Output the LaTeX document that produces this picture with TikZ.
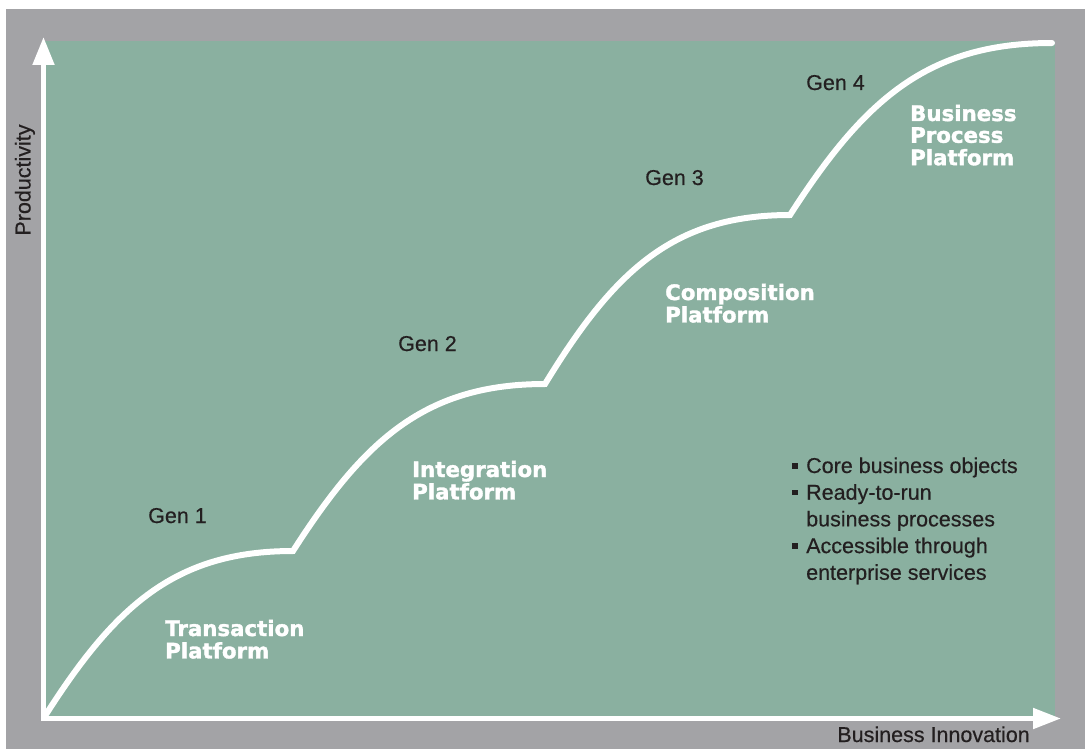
\documentclass[tikz,border=0pt]{standalone}
\usepackage{fontspec}
\setmainfont{Liberation Sans}[FakeBold=0.45]
\newfontfamily\heavyfont{DejaVu Sans}[BoldFeatures={FakeBold=1.6}]
\usetikzlibrary{arrows.meta}
\definecolor{bggray}{RGB}{163,163,166}
\definecolor{chartgreen}{RGB}{138,176,160}
\definecolor{inkdark}{RGB}{35,31,32}
\tikzset{
  genlabel/.style={anchor=base west, inner sep=0pt, text=inkdark, font=\fontsize{21.5}{26.7}\selectfont},
  platlabel/.style={anchor=base west, inner sep=0pt, text=white, font=\heavyfont\bfseries\fontsize{21.3}{20.8}\selectfont},
  axislabel/.style={inner sep=0pt, text=inkdark, font=\fontsize{21.5}{26.7}\selectfont},
  curveline/.style={draw=white, line width=6pt, line cap=round, line join=miter},
  axisline/.style={draw=white, line width=5pt, line join=miter}
}
\newcommand{\bulletsq}{\rule[4.5pt]{5.5pt}{5.5pt}}
\begin{document}
\begin{tikzpicture}[x=1pt,y=-1pt]
\useasboundingbox (0,0) rectangle (1085,749);
\fill[white] (0,0) rectangle (1085,749);
\fill[bggray] (6,9) rectangle (1085,749);
\fill[chartgreen] (44,41) rectangle (1055,718);
% growth curve
\draw[curveline] (45,716) .. controls (115,606) and (175,551) .. (293,551)
  .. controls (364,440) and (425,384) .. (545,384)
  .. controls (614,271) and (673,215) .. (790,215)
  .. controls (864,100) and (927,43) .. (1052,43);
% axes
\coordinate (ytip) at (43.5,37);
\coordinate (orig) at (43.5,718.5);
\coordinate (xtip) at (1061,718.5);
\draw[axisline, {Triangle[length=28pt,width=21pt]}-{Triangle[length=28pt,width=20pt]}] (ytip) -- (orig) -- (xtip);
% axis labels
\node[axislabel, rotate=90, anchor=base] (ylab) at (30.5,180) {Productivity};
\node[axislabel, anchor=base east] (xlab) at (1030,742) {Business Innovation};
% generation labels
\node[genlabel] (gen1) at (148,523) {Gen 1};
\node[genlabel] (gen2) at (398,351) {Gen 2};
\node[genlabel] (gen3) at (645,185) {Gen 3};
\node[genlabel] (gen4) at (806,90) {Gen 4};
% platform labels
\node[platlabel] (p1) at (165,636) {\begin{tabular}[t]{@{}l@{}}Transaction\\Platform\end{tabular}};
\node[platlabel] (p2) at (412,477) {\begin{tabular}[t]{@{}l@{}}Integration\\Platform\end{tabular}};
\node[platlabel] (p3) at (665,300) {\begin{tabular}[t]{@{}l@{}}Composition\\Platform\end{tabular}};
\node[platlabel] (p4) at (910,121) {\begin{tabular}[t]{@{}l@{}}Business\\Process\\Platform\end{tabular}};
% bullet list
\node[genlabel] (list) at (792,473) {\begin{tabular}[t]{@{}l@{\hspace{8.5pt}}l@{}}
\bulletsq & Core business objects\\
\bulletsq & Ready-to-run\\
 & business processes\\
\bulletsq & Accessible through\\
 & enterprise services
\end{tabular}};
\end{tikzpicture}
\end{document}
